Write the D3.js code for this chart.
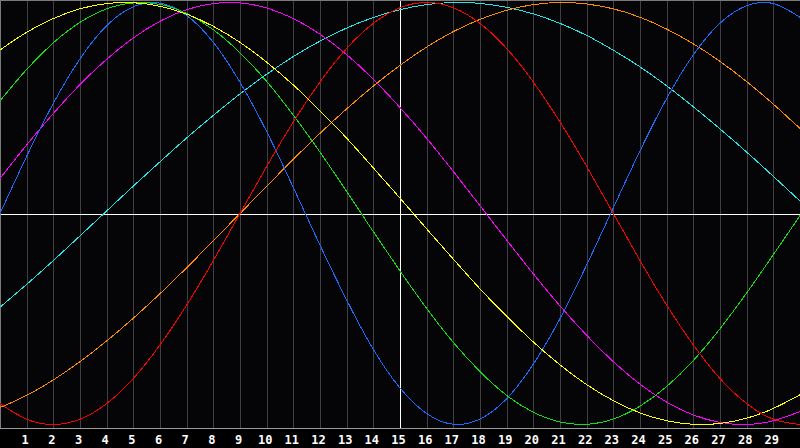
<!DOCTYPE html>
<html>
<head>
<meta charset="utf-8">
<script src="https://cdn.jsdelivr.net/npm/d3@7"></script>
<style>
  html, body { margin: 0; padding: 0; background: #000; }
  svg { display: block; }
</style>
</head>
<body>
<div id="chart"></div>
<script>
// x positions (grid steps 0..30)
var xValues = d3.range(0, 31);
var tickLabels = d3.range(1, 30);

// series, one value per grid step
var redValues = [-0.901,-0.975,-1.000,-0.975,-0.901,-0.782,-0.623,-0.434,-0.223,0.000,0.223,0.434,0.623,0.782,0.901,0.975,1.000,0.975,0.901,0.782,0.623,0.434,0.223,0.000,-0.223,-0.434,-0.623,-0.782,-0.901,-0.975,-1.000];
var orangeValues = [-0.920,-0.862,-0.789,-0.702,-0.604,-0.496,-0.380,-0.257,-0.129,0.000,0.129,0.257,0.380,0.496,0.604,0.702,0.789,0.862,0.920,0.963,0.990,1.000,0.993,0.970,0.930,0.874,0.804,0.721,0.625,0.518,0.403];
var cyanValues = [-0.444,-0.336,-0.223,-0.106,0.012,0.130,0.245,0.358,0.465,0.567,0.660,0.744,0.817,0.879,0.929,0.966,0.990,1.000,0.996,0.977,0.946,0.901,0.844,0.774,0.695,0.605,0.506,0.401,0.291,0.176,0.059];
var yellowValues = [0.775,0.859,0.924,0.970,0.995,0.999,0.982,0.945,0.887,0.811,0.717,0.609,0.487,0.357,0.216,0.073,-0.073,-0.216,-0.357,-0.487,-0.609,-0.717,-0.811,-0.887,-0.945,-0.982,-0.999,-0.995,-0.970,-0.924,-0.859];
var greenValues = [0.533,0.683,0.809,0.906,0.970,0.998,0.991,0.948,0.871,0.762,0.626,0.466,0.291,0.104,-0.086,-0.272,-0.450,-0.611,-0.749,-0.862,-0.942,-0.988,-0.999,-0.974,-0.913,-0.820,-0.697,-0.546,-0.377,-0.195,-0.010];
var blueValues = [0.000,0.271,0.522,0.733,0.890,0.980,0.997,0.939,0.811,0.622,0.388,0.123,-0.150,-0.410,-0.644,-0.827,-0.948,-0.999,-0.974,-0.878,-0.714,-0.498,-0.244,0.027,0.297,0.545,0.752,0.902,0.985,0.995,0.930];
var magentaValues = [0.166,0.325,0.474,0.611,0.731,0.832,0.911,0.966,0.995,0.998,0.974,0.924,0.850,0.753,0.636,0.502,0.356,0.199,0.037,-0.126,-0.286,-0.438,-0.577,-0.702,-0.809,-0.894,-0.955,-0.990,-1.000,-0.982,-0.939];

var width = 800;
var height = 448;
var plotBottom = 428;

var svg = d3.select("#chart")
    .append("svg")
    .attr("width", width)
    .attr("height", height);

svg.append("rect")
    .attr("width", width)
    .attr("height", height)
    .attr("fill", "#000");

//plot panel
svg.append("rect")
    .attr("x", 0)
    .attr("y", 0)
    .attr("width", width)
    .attr("height", plotBottom)
    .attr("fill", "#050508");

var x = d3.scaleLinear().domain([0, 30]).range([0, width]);
var y = d3.scaleLinear().domain([-1, 1]).range([424.5, 2.5]);

//vertical grid, one per step
svg.append("g")
    .selectAll("line")
    .data(tickLabels)
    .enter().append("line")
    .attr("x1", d => Math.round(x(d)) + 0.5)
    .attr("x2", d => Math.round(x(d)) + 0.5)
    .attr("y1", 0)
    .attr("y2", plotBottom)
    .attr("stroke", d => d == 15 ? "#ffffff" : "#404044")
    .attr("stroke-width", 1)
    .attr("shape-rendering", "crispEdges");

//zero line
svg.append("line")
    .attr("x1", 0)
    .attr("x2", width)
    .attr("y1", Math.round(y(0)) + 0.5)
    .attr("y2", Math.round(y(0)) + 0.5)
    .attr("stroke", "#ffffff")
    .attr("shape-rendering", "crispEdges");

//frame: top, left, bottom
svg.append("path")
    .attr("d", "M0.5," + plotBottom + "V0.5H" + width)
    .attr("fill", "none")
    .attr("stroke", "#7a7a7a")
    .attr("shape-rendering", "crispEdges");
svg.append("line")
    .attr("x1", 0)
    .attr("x2", width)
    .attr("y1", plotBottom + 0.5)
    .attr("y2", plotBottom + 0.5)
    .attr("stroke", "#9a9a9a")
    .attr("shape-rendering", "crispEdges");

var series = [
    {name: "cyan", values: cyanValues, color: "#20e8e8"},
    {name: "orange", values: orangeValues, color: "#ff8c00"},
    {name: "magenta", values: magentaValues, color: "#ff00ff"},
    {name: "blue", values: blueValues, color: "#1a6cff"},
    {name: "green", values: greenValues, color: "#10e010"},
    {name: "yellow", values: yellowValues, color: "#ffff00"},
    {name: "red", values: redValues, color: "#ff0000"}
];

var line = d3.line()
    .x((d, i) => x(xValues[i]))
    .y(d => y(d))
    .curve(d3.curveNatural);

svg.append("g")
    .selectAll("path")
    .data(series)
    .enter().append("path")
    .attr("d", d => line(d.values))
    .attr("fill", "none")
    .attr("stroke", d => d.color)
    .attr("stroke-width", 1)
    .attr("shape-rendering", "crispEdges");

//x labels
var xAxis = d3.axisBottom(x)
    .tickValues(tickLabels)
    .tickSize(0)
    .tickPadding(0)
    .tickFormat(d3.format("d"));

var axisG = svg.append("g")
    .attr("transform", "translate(-2," + (plotBottom + 7) + ")")
    .call(xAxis);
axisG.select(".domain").remove();
axisG.selectAll("text")
    .attr("fill", "#ffffff")
    .attr("font-family", "'DejaVu Sans Mono', monospace")
    .attr("font-weight", "bold")
    .attr("font-size", "12px")
    .attr("dy", "0.71em");
</script>
</body>
</html>
